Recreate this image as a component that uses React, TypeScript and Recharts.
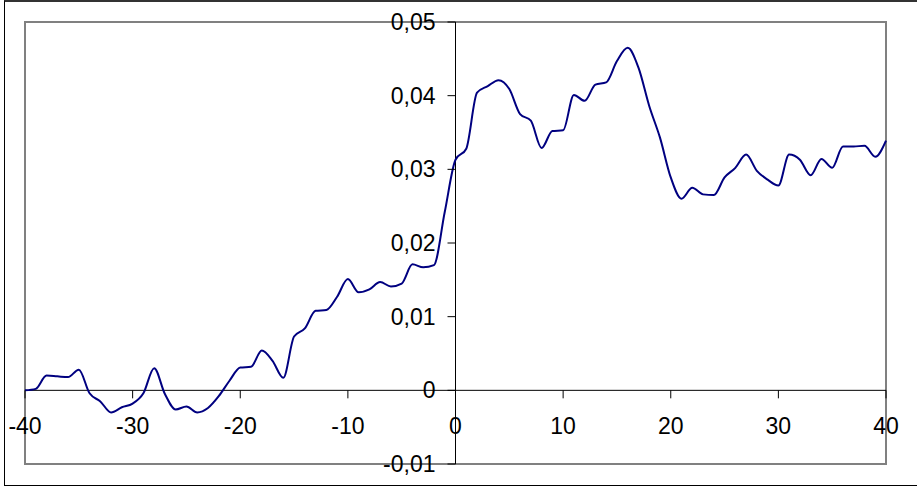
import React from 'react';
import { LineChart, Line, XAxis, YAxis, ReferenceLine, ReferenceDot, ReferenceArea } from 'recharts';

// x positions of the curve samples
const xValues: number[] = [
  -40, -39, -38, -37, -36, -35, -34, -33, -32, -31,
  -30, -29, -28, -27, -26, -25, -24, -23, -22, -21,
  -20, -19, -18, -17, -16, -15, -14, -13, -12, -11,
  -10, -9, -8, -7, -6, -5, -4, -3, -2, -1,
  0, 1, 2, 3, 4, 5, 6, 7, 8, 9,
  10, 11, 12, 13, 14, 15, 16, 17, 18, 19,
  20, 21, 22, 23, 24, 25, 26, 27, 28, 29,
  30, 31, 32, 33, 34, 35, 36, 37, 38, 39,
  40,
];

// values
const yValues: number[] = [
  0, 0.0002, 0.002, 0.0019, 0.0018, 0.0028, -0.0004, -0.0015, -0.003, -0.0023,
  -0.0018, -0.0004, 0.003, -0.0005, -0.0026, -0.0022, -0.003, -0.0024, -0.0008, 0.0013,
  0.0031, 0.0032, 0.0054, 0.004, 0.0017, 0.0073, 0.0084, 0.0108, 0.0109, 0.0127,
  0.0151, 0.0133, 0.0137, 0.0147, 0.0141, 0.0145, 0.0171, 0.0167, 0.017, 0.0242,
  0.0313, 0.0328, 0.0404, 0.0413, 0.0421, 0.0409, 0.0375, 0.0366, 0.0329, 0.0352,
  0.0353, 0.0401, 0.0393, 0.0415, 0.0418, 0.0447, 0.0465, 0.0438, 0.0386, 0.0343,
  0.0289, 0.026, 0.0275, 0.0266, 0.0265, 0.0289, 0.0302, 0.032, 0.0298, 0.0286,
  0.0278, 0.032, 0.0313, 0.0292, 0.0314, 0.0302, 0.0331, 0.0331, 0.0332, 0.0317,
  0.0339,
];

const xTicks: number[] = [-40, -30, -20, -10, 0, 10, 20, 30, 40];
const xTickLabels: string[] = ['-40', '-30', '-20', '-10', '0', '10', '20', '30', '40'];
const yTicks: number[] = [-0.01, 0, 0.01, 0.02, 0.03, 0.04, 0.05];
const yTickLabels: string[] = ['-0,01', '0', '0,01', '0,02', '0,03', '0,04', '0,05'];

const data = xValues.map((x, i) => ({ x, y: yValues[i] }));

const FONT = '"Liberation Sans", Arial, sans-serif';

const XTick = (label: string) => (props: any) => {
  const { cx, cy } = props;
  return (
    <g>
      <line x1={cx} y1={cy} x2={cx} y2={cy + 8} stroke="#000" strokeWidth={1} />
      <text x={cx} y={cy + 44} textAnchor="middle" fontFamily={FONT} fontSize={23} fill="#000">
        {label}
      </text>
    </g>
  );
};

const YTick = (label: string) => (props: any) => {
  const { cx, cy } = props;
  return (
    <g>
      <line x1={cx - 8} y1={cy} x2={cx} y2={cy} stroke="#000" strokeWidth={1} />
      <text x={cx - 20} y={cy + 8} textAnchor="end" fontFamily={FONT} fontSize={23} fill="#000">
        {label}
      </text>
    </g>
  );
};

export default function App() {
  return (
    <div style={{ position: 'absolute', left: 0, top: 0, width: 917, height: 487, overflow: 'hidden', background: '#fff' }}>
      <div
        style={{
          position: 'absolute',
          left: 4,
          top: 0,
          width: 930,
          height: 483,
          borderLeft: '1px solid #000',
          borderBottom: '1px solid #000',
          borderTop: '2px solid #333',
        }}
      />
      <div style={{ position: 'absolute', left: 0, top: 0 }}>
        <LineChart width={917} height={487} data={data} margin={{ top: 22, right: 31, bottom: 23, left: 25 }}>
          <XAxis type="number" dataKey="x" domain={[-40, 40]} hide />
          <YAxis type="number" domain={[-0.01, 0.05]} hide />
          <ReferenceArea
            x1={-40}
            x2={40}
            y1={-0.01}
            y2={0.05}
            fill="none"
            stroke="#808080"
            strokeWidth={2}
          />
          {xTicks.map((t, i) => (
            <ReferenceDot key={'x' + t} x={t} y={0} r={0} shape={XTick(xTickLabels[i])} />
          ))}
          {yTicks.map((t, i) => (
            <ReferenceDot key={'y' + t} x={0} y={t} r={0} shape={YTick(yTickLabels[i])} />
          ))}
          <ReferenceLine y={0} stroke="#000" strokeWidth={1} />
          <ReferenceLine x={0} stroke="#000" strokeWidth={1} />
          <Line
            type="monotone"
            dataKey="y"
            stroke="#000080"
            strokeWidth={2}
            dot={false}
            isAnimationActive={false}
          />
        </LineChart>
      </div>
    </div>
  );
}
